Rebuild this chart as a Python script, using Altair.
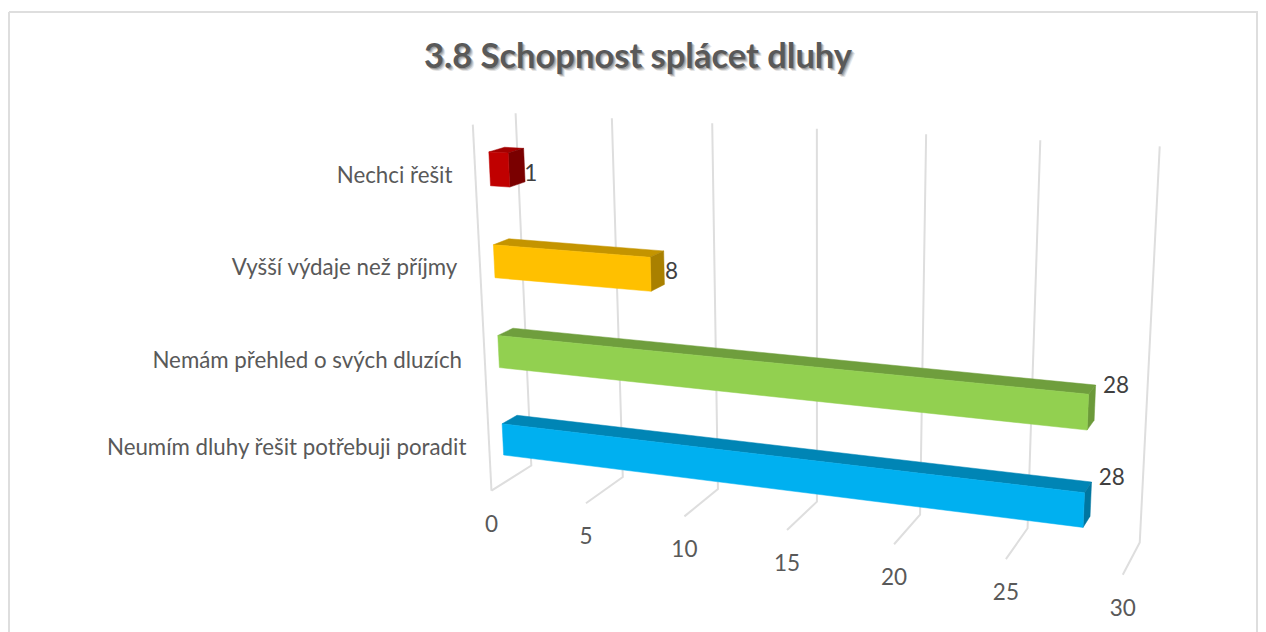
import altair as alt
import numpy as np
import pandas as pd

# ---- chart content
title_text = "3.8 Schopnost splácet dluhy"
categories = ["Nechci řešit", "Vyšší výdaje než příjmy", "Nemám přehled o svých dluzích", "Neumím dluhy řešit potřebuji poradit"]
values = [1, 8, 28, 28]
front_colors = ["#C00000", "#FFC000", "#92D050", "#00B0F0"]
top_colors = ["#A30000", "#C49400", "#6F9E3D", "#0085B5"]
side_colors = ["#7A0000", "#A98000", "#6C9A3A", "#0076A0"]
ticks = [0, 5, 10, 15, 20, 25, 30]

# ---- 3D layout of the chart box (value, height 0-1, depth 0-1) and its screen calibration
box_anchors = [
    (0, 0, 0, 491.5, 490), (0, 1, 0, 473, 125), (0, 0, 1, 531.5, 466), (0, 1, 1, 515.5, 113),
    (5, 0, 0, 586, 503), (5, 0, 1, 623, 478), (5, 1, 1, 612, 118),
    (10, 0, 0, 684, 517), (10, 0, 1, 718, 488), (10, 1, 1, 712, 123),
    (15, 0, 0, 787, 530), (15, 0, 1, 818, 502), (15, 1, 1, 817, 128),
    (20, 0, 0, 893, 545), (20, 0, 1, 918, 515), (20, 1, 1, 926, 134),
    (25, 0, 0, 1007, 559), (25, 0, 1, 1028, 528), (25, 1, 1, 1040, 141),
    (30, 0, 0, 1123, 574), (30, 0, 1, 1140, 542), (30, 1, 1, 1160, 147),
]
A, B = [], []
for v, h, d, u, w in box_anchors:
    X = [v / 30, h, d, 1]
    A.append(X + [0, 0, 0, 0] + [-u * c for c in X[:3]])
    B.append(u)
    A.append([0, 0, 0, 0] + X + [-w * c for c in X[:3]])
    B.append(w)
P = np.linalg.lstsq(np.array(A, float), np.array(B, float), rcond=None)[0]


def project(v, h, d):
    X = np.array([v / 30, h, d, 1.0])
    q = P[8] * X[0] + P[9] * X[1] + P[10] * X[2] + 1
    return float(P[:4] @ X / q), float(P[4:8] @ X / q)


bar_centers = [0.873, 0.624, 0.374, 0.124]
bar_half = 0.045
depth_front, depth_back = 0.33, 0.70
label_nudge_x = [0, 1, 8, 8]
label_nudge_y = [9, 4, -17, -21]
cat_nudge_y = [-4, -8, -7, -6]

polys, lines = [], []


def add_poly(name, color, corners):
    for k, c in enumerate(corners + corners[:1]):
        u, w = project(*c)
        polys.append({"poly": name, "color": color, "k": k, "px": u, "py": w})


for i, (val, hc) in enumerate(zip(values, bar_centers)):
    lo, hi = hc - bar_half, hc + bar_half
    add_poly(f"{i}top", top_colors[i], [(0, hi, depth_front), (0, hi, depth_back), (val, hi, depth_back), (val, hi, depth_front)])
    add_poly(f"{i}side", side_colors[i], [(val, lo, depth_front), (val, hi, depth_front), (val, hi, depth_back), (val, lo, depth_back)])
    add_poly(f"{i}front", front_colors[i], [(0, lo, depth_front), (0, hi, depth_front), (val, hi, depth_front), (val, lo, depth_front)])

for t in ticks:
    path = [(t, 0, 0), (t, 0, 1), (t, 1, 1)]
    for k, c in enumerate(path):
        u, w = project(*c)
        lines.append({"line": f"g{t}", "k": k, "px": u, "py": w})
for k, c in enumerate([(0, 0, 0), (0, 1, 0)]):
    u, w = project(*c)
    lines.append({"line": "side", "k": k, "px": u, "py": w})

cat_rows, val_rows, tick_rows = [], [], []
for i, (name, val, hc) in enumerate(zip(categories, values, bar_centers)):
    u, w = project(0, bar_centers[i] - [0.006, 0.014, 0.014, 0.007][i], 0)
    cat_rows.append({"px": u - 23, "py": w + 4 + cat_nudge_y[i], "label": name})
    u, w = project(val, hc, depth_back)
    val_rows.append({"px": u + label_nudge_x[i], "py": w + label_nudge_y[i], "label": str(val)})
for t in ticks:
    u, w = project(t, 0, 0)
    tick_rows.append({"px": u, "py": w + 34, "label": str(t)})

W, H = 1250, 624
xs = alt.X("px:Q", scale=alt.Scale(domain=[8, 8 + W]), axis=None)
ys = alt.Y("py:Q", scale=alt.Scale(domain=[8, 8 + H], reverse=True), axis=None)

grid = alt.Chart(pd.DataFrame(lines)).mark_line(color="#DEDEDE", strokeWidth=2).encode(
    x=xs, y=ys, detail="line:N", order="k:Q")
bars = alt.Chart(pd.DataFrame(polys)).mark_line(strokeWidth=0.5).encode(
    x=xs, y=ys, detail="poly:N", order="k:Q",
    fill=alt.Fill("color:N", scale=None), stroke=alt.Stroke("color:N", scale=None))


def text_layer(rows, **kw):
    return alt.Chart(pd.DataFrame(rows)).mark_text(baseline="middle", font="Lato", **kw).encode(x=xs, y=ys, text="label:N")


cat_text = text_layer(cat_rows, align="right", fontSize=22.3, color="#595959")
val_text = text_layer(val_rows, align="left", fontSize=22.5, color="#404040")
tick_text = text_layer(tick_rows, align="center", fontSize=22.5, color="#595959")

title_row = [{"px": 638, "py": 58, "label": title_text}]
shadows = [
    text_layer(title_row, align="center", fontSize=34.5, fontWeight="bold", color="#000000", opacity=op, dx=dx, dy=dy)
    for dx, dy, op in [(3, 3, 0.10), (2, 2, 0.16), (1, 1, 0.2)]
]
title_main = text_layer(title_row, align="center", fontSize=34.5, fontWeight="bold", color="#595959")

border_color = "#DEDEDE"
frame = alt.Chart(pd.DataFrame({"a": [0]}))
border = [
    frame.mark_rule(color=border_color, strokeWidth=2).encode(x=alt.value(1), y=alt.value(4), y2=alt.value(H)),
    frame.mark_rule(color=border_color, strokeWidth=2).encode(x=alt.value(1), x2=alt.value(W), y=alt.value(4)),
    frame.mark_rule(color=border_color, strokeWidth=2).encode(x=alt.value(W - 1), y=alt.value(4), y2=alt.value(H)),
]

chart = alt.layer(*border, grid, bars, cat_text, val_text, tick_text, *shadows, title_main).properties(
    width=W, height=H, padding=0, background="white",
    autosize=alt.AutoSizeParams(type="none"),
).configure_view(stroke=None)

chart.save("out.html", embed_options={"renderer": "svg", "actions": False})
